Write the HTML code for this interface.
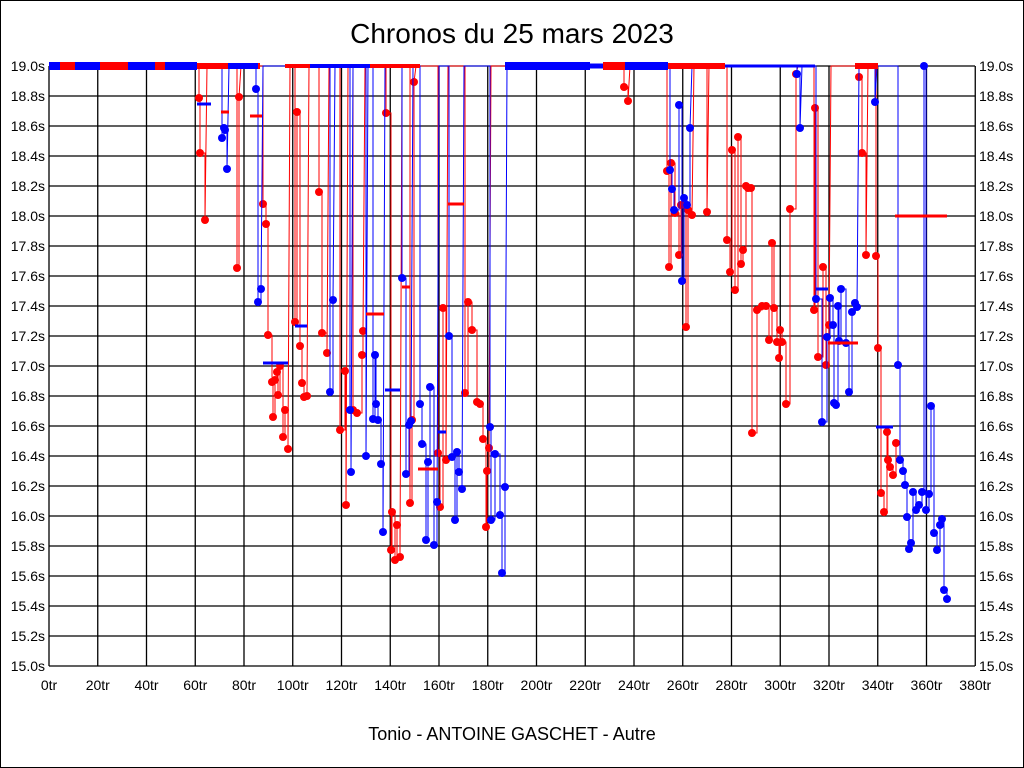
<!DOCTYPE html>
<html><head><meta charset="utf-8"><style>
html,body{margin:0;padding:0;background:#fff}
#c{position:relative;width:1024px;height:768px;box-sizing:border-box;border:1px solid #000;overflow:hidden;font-family:"Liberation Sans",sans-serif}
svg text{font-family:"Liberation Sans",sans-serif}
</style></head><body><div id="c">
<svg id="s" width="1022" height="766" viewBox="1 1 1022 766" xmlns="http://www.w3.org/2000/svg">
<text x="512" y="43" font-size="28" text-anchor="middle">Chronos du 25 mars 2023</text>
<text x="512" y="740" font-size="18" text-anchor="middle">Tonio - ANTOINE GASCHET - Autre</text>
<g id="grid"></g><g id="data"></g>
</svg></div>
<script>
var ns="http://www.w3.org/2000/svg";
function el(p,t,a,txt){var e=document.createElementNS(ns,t);for(var k in a)e.setAttribute(k,a[k]);if(txt!=null)e.textContent=txt;p.appendChild(e);return e;}
var g=document.getElementById('grid'),d=document.getElementById('data');
function X(tr){return 49+tr*2.4375;}
function Y(v){return 666-(v-15)*150;}
for(var i=0;i<=19;i++){var x=X(i*20);el(g,'line',{x1:x,y1:66,x2:x,y2:666,stroke:'#000','stroke-width':1.3});
el(g,'text',{x:x,y:690,'font-size':14,'text-anchor':'middle'},(i*20)+'tr');}
for(var j=0;j<=20;j++){var v=15+j*0.2,y=Y(v);el(g,'line',{x1:49,y1:y,x2:975,y2:y,stroke:'#000','stroke-width':1.3});
el(g,'text',{x:45,y:y+5,'font-size':14,'text-anchor':'end'},v.toFixed(1)+'s');
el(g,'text',{x:979,y:y+5,'font-size':14},v.toFixed(1)+'s');}
var R=[[199,98],[200,153],[205,220],[237,268],[239,97],[263,204],[266,224],[268,335],[272,382],[273,417],[275,380],[277,372],[278,395],[280,366],[283,437],[285,410],[288,449],[295,322],[297,112],[300,346],[302,383],[304,397],[307,396],[319,192],[322,333],[327,353],[340,430],[345,371],[346,505],[353,410],[357,413],[362,355],[363,331],[386,113],[391,550],[392,512],[395,560],[397,525],[400,557],[410,503],[412,420],[414,82],[438,453],[440,507],[443,308],[446,460],[465,393],[468,302],[472,330],[477,402],[480,404],[483,439],[486,527],[487,471],[489,448],[624,87],[628,101],[667,171],[669,267],[671,163],[675,213],[679,255],[681,205],[686,327],[688,210],[692,215],[707,212],[727,240],[730,272],[732,150],[735,290],[738,137],[741,264],[743,250],[746,186],[748,188],[751,188],[752,433],[757,310],[762,306],[766,306],[769,340],[772,243],[774,308],[777,342],[779,358],[780,330],[782,342],[786,404],[790,209],[796,74],[814,310],[815,108],[818,357],[823,267],[826,365],[829,325],[859,77],[862,153],[866,255],[876,256],[878,348],[881,493],[884,512],[887,432],[888,460],[890,467],[893,475],[896,443]];
var B=[[222,138],[224,128],[225,130],[227,169],[256,89],[258,302],[261,289],[330,392],[333,300],[350,410],[351,472],[366,456],[373,419],[375,355],[376,404],[378,420],[381,464],[383,532],[402,278],[406,474],[409,425],[411,421],[420,404],[422,444],[426,540],[428,462],[430,387],[434,545],[437,502],[449,336],[452,457],[455,520],[457,452],[459,472],[462,489],[490,427],[491,520],[495,454],[500,515],[502,573],[505,487],[670,170],[672,189],[674,210],[679,105],[682,281],[684,198],[687,205],[690,128],[797,74],[800,128],[816,299],[822,422],[827,337],[830,298],[833,325],[834,403],[836,405],[838,306],[839,341],[841,289],[846,343],[849,392],[852,312],[855,303],[857,307],[875,102],[898,365],[900,460],[903,471],[905,485],[907,517],[909,549],[911,543],[913,492],[916,510],[919,505],[922,492],[924,66],[926,510],[929,494],[931,406],[934,533],[937,550],[940,525],[942,519],[944,590],[947,599]];
function series(P,col){var pts=[];var last=66;
for(var i=0;i<P.length;i++){var p=P[i];
if(i>0&&p[0]-P[i-1][0]>6){pts.push([P[i-1][0]+2,66]);pts.push([p[0]-2,66]);last=66;}
pts.push([p[0],last]);pts.push([p[0],p[1]]);last=p[1];}
el(d,'polyline',{points:pts.map(function(q){return q.join(',')}).join(' '),fill:'none',stroke:col,'stroke-width':1});
P.forEach(function(p){el(d,'circle',{cx:p[0],cy:p[1],r:4,fill:col});});}
series(R,'#f00');series(B,'#00f');
function bar(x1,x2,y,col,w){el(d,'line',{x1:x1,y1:y,x2:x2,y2:y,stroke:col,'stroke-width':w||3});}
bar(49,197,66,'#00f',8);bar(60,75,66,'#f00',8);bar(100,128,66,'#f00',8);bar(155,165,66,'#f00',8);
bar(197,260,66,'#f00',6);bar(228,258,66,'#00f',6);bar(285,420,66,'#f00',4);bar(310,370,66,'#00f',4);
bar(505,590,66,'#00f',8);bar(590,603,66,'#00f',5);bar(603,625,66,'#f00',8);bar(625,668,66,'#00f',8);bar(668,725,66,'#f00',6);bar(725,815,66,'#00f',3);bar(855,878,66,'#f00',6);
[[197,211,104,'#00f'],[221,229,112,'#f00'],[250,262,116,'#f00'],[263,288,363,'#00f'],[295,307,326,'#00f'],[366,384,314,'#f00'],[385,400,390,'#00f'],[402,410,287,'#f00'],[418,438,469,'#f00'],[438,446,432,'#00f'],[448,464,204,'#f00'],[816,828,289,'#00f'],[828,858,343,'#f00'],[876,893,427,'#00f'],[895,947,216,'#f00']].forEach(function(b){bar(b[0],b[1],b[2],b[3],3);});
</script>
</body></html>
